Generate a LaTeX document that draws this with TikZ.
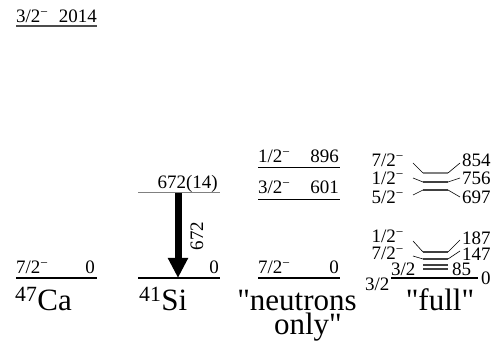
\documentclass[tikz,border=0pt]{standalone}
\usepackage{fontspec}
\setmainfont{Liberation Serif}
\usetikzlibrary{arrows.meta}
\newcommand{\mn}{\textsuperscript{−}}
\begin{document}
\begin{tikzpicture}[x=1pt,y=-1pt,
  lab/.style={inner sep=0pt,font=\fontsize{19}{21}\selectfont},
  big/.style={inner sep=0pt,font=\fontsize{31}{34}\selectfont},
  gnd/.style={line width=1.6pt},
  lvl/.style={line width=0.8pt},
  glvl/.style={line width=1pt,gray},
  thk/.style={line width=1.4pt,gray!50!black},
  con/.style={line width=0.6pt}]
\useasboundingbox (0,0) rectangle (499,344);
% top level
\coordinate (t1) at (16,26); \coordinate (t2) at (97,26);
\draw[line width=1.6pt,gray!60!black] (t1) -- (t2);
\node[lab,anchor=base west] (tl) at (16,23) {3/2\mn};
\node[lab,anchor=base east] (te) at (97,23) {2014};
% 47Ca
\coordinate (c1) at (16,278); \coordinate (c2) at (97,278);
\draw[gnd] (c1) -- (c2);
\node[lab,anchor=base west] (cl) at (16,274) {7/2\mn};
\node[lab,anchor=base east] (ce) at (95,274) {0};
\node[big,anchor=base west] (ca) at (15,311) {\textsuperscript{47}Ca};
% 41Si
\coordinate (s1) at (138,193); \coordinate (s2) at (220,193);
\coordinate (s3) at (138,278); \coordinate (s4) at (220,278);
\coordinate (sa) at (178,193); \coordinate (sb) at (178,278);
\draw[glvl] (s1) -- (s2);
\draw[gnd] (s3) -- (s4);
\node[lab,anchor=base east] (se1) at (218,189) {672(14)};
\node[lab,anchor=base east] (se0) at (219,274) {0};
\draw[line width=7pt,-{Triangle[width=19pt,length=20pt]}] (sa) -- (sb);
\node[lab,rotate=90] (g672) at (197,236) {672};
\node[big,anchor=base west] (si) at (139,311) {\textsuperscript{41}Si};
% neutrons only
\coordinate (n1) at (258,167); \coordinate (n2) at (340,167);
\coordinate (n3) at (258,199); \coordinate (n4) at (340,199);
\coordinate (n5) at (258,278); \coordinate (n6) at (340,278);
\draw[lvl] (n1) -- (n2);
\draw[lvl] (n3) -- (n4);
\draw[gnd] (n5) -- (n6);
\node[lab,anchor=base west] (nl1) at (258,163) {1/2\mn};
\node[lab,anchor=base east] (ne1) at (339,163) {896};
\node[lab,anchor=base west] (nl2) at (258,194) {3/2\mn};
\node[lab,anchor=base east] (ne2) at (339,194) {601};
\node[lab,anchor=base west] (nl3) at (258,274) {7/2\mn};
\node[lab,anchor=base east] (ne3) at (339,274) {0};
\node[big,anchor=base] (nn1) at (297,311) {\textquotedbl neutrons};
\node[big,anchor=base] (nn2) at (308,335) {only\textquotedbl};
% full - upper group
\node[lab,anchor=base east] (f7) at (404,167) {7/2\mn};
\node[lab,anchor=base east] (f1) at (404,185) {1/2\mn};
\node[lab,anchor=base east] (f5) at (404,204) {5/2\mn};
\node[lab,anchor=base west] (e854) at (462,167) {854};
\node[lab,anchor=base west] (e756) at (462,185) {756};
\node[lab,anchor=base west] (e697) at (462,204) {697};
\draw[con] (413,163) -- (423,173);
\draw[thk,gray] (423,173) -- (448,173);
\draw[con] (448,173) -- (460,163);
\draw[con] (413,178) -- (423,182);
\draw[thk] (423,182) -- (448,182);
\draw[con] (448,182) -- (460,178);
\draw[con] (413,195) -- (423,190);
\draw[thk] (423,190) -- (448,190);
\draw[con] (448,190) -- (460,197);
% full - lower group
\node[lab,anchor=base east] (g1) at (404,243) {1/2\mn};
\node[lab,anchor=base east] (g7) at (404,260) {7/2\mn};
\node[lab,anchor=base west] (g3) at (391,276) {3/2};
\node[lab,anchor=base west] (g3b) at (365,291) {3/2};
\node[lab,anchor=base west] (e187) at (462,245) {187};
\node[lab,anchor=base west] (e147) at (462,261) {147};
\node[lab,anchor=base west] (e85) at (452,276) {85};
\node[lab,anchor=base west] (e0) at (481,285) {0};
\draw[con] (413,241) -- (423,252);
\draw[thk] (423,252) -- (448,252);
\draw[con] (448,252) -- (460,240);
\draw[con] (413,256) -- (423,259);
\draw[thk] (423,259) -- (448,259);
\draw[con] (448,259) -- (460,251);
\draw[thk] (423,265) -- (448,265);
\draw[thk] (423,269) -- (448,269);
\coordinate (f01) at (391,278); \coordinate (f02) at (478,278);
\draw[gnd] (f01) -- (f02);
\node[big,anchor=base] (fl) at (440,311) {\textquotedbl full\textquotedbl};
\end{tikzpicture}
\end{document}
